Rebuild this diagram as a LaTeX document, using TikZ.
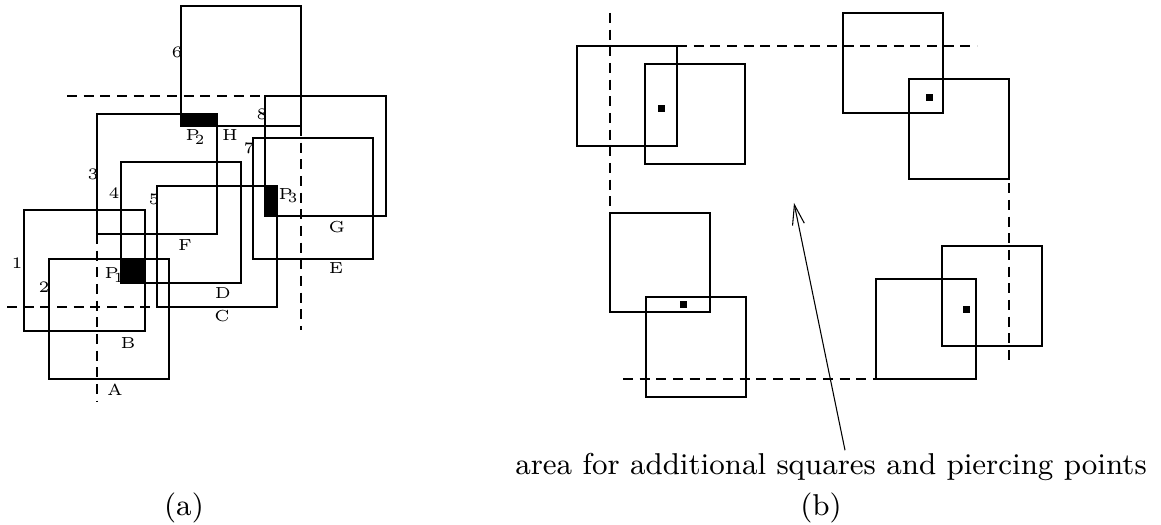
\documentclass[tikz,border=0pt]{standalone}
\usetikzlibrary{arrows.meta}
\begin{document}
\begin{tikzpicture}[x=0.3pt,y=-0.3pt, line width=0.32pt,
  sqbox/.style={draw=black, line width=0.32pt},
  dashln/.style={draw=black, dash pattern=on 3pt off 2pt, line width=0.32pt},
  lbl/.style={inner sep=0pt, font=\fontsize{4.8}{5}\selectfont},
  pierce/.style={fill=black},
  captext/.style={inner sep=0pt, font=\fontsize{9.05}{11}\selectfont}]
\useasboundingbox (0,0) rectangle (1161,525);
\newcommand{\Pl}[1]{P\kern-0.32em\raisebox{-0.45ex}{\fontsize{4.2}{4}\selectfont #1}}
% ---------------- (a) ----------------
\draw[sqbox] (181,6) rectangle (301,126);   % 6 / H
\draw[sqbox] (265,96) rectangle (386,216);  % 8 / G
\draw[sqbox] (97,114) rectangle (217,234);  % 3 / F
\draw[sqbox] (253,138) rectangle (373,259); % 7 / E
\draw[sqbox] (121,162) rectangle (241,283); % 4 / D
\draw[sqbox] (157,186) rectangle (277,307); % 5 / C
\draw[sqbox] (24,210) rectangle (145,331);  % 1 / B
\draw[sqbox] (49,259) rectangle (169,379);  % 2 / A
\fill[pierce] (181,114) rectangle (218,126);
\fill[pierce] (265,186) rectangle (277,217);
\fill[pierce] (121,259) rectangle (146,283);
\draw[dashln] (67,96) -- (272,96);
\draw[dashln] (7,307) -- (175,307);
\draw[dashln] (97,234) -- (97,402);
\draw[dashln] (301,126) -- (301,330);
\node[lbl] (n6) at (177,52) {6};
\node[lbl] (n8) at (262,114) {8};
\node[lbl] (n7) at (249,148) {7};
\node[lbl] (n3) at (93,174) {3};
\node[lbl] (n4) at (114,193) {4};
\node[lbl] (n5) at (154,199) {5};
\node[lbl] (n1) at (17,263) {1};
\node[lbl] (n2) at (44,287) {2};
\node[lbl] (p2) at (195,137) {\Pl{2}};
\node[lbl] (p3) at (288,196) {\Pl{3}};
\node[lbl] (p1) at (114,275) {\Pl{1}};
\node[lbl] (lH) at (230,135) {H};
\node[lbl] (lG) at (337,227) {G};
\node[lbl] (lE) at (336,268) {E};
\node[lbl] (lF) at (185,245) {F};
\node[lbl] (lD) at (223,293) {D};
\node[lbl] (lC) at (222,316) {C};
\node[lbl] (lB) at (128,343) {B};
\node[lbl] (lA) at (115,390) {A};
\node[captext, anchor=base] (capa) at (184,516) {(a)};
% ---------------- (b) ----------------
\draw[sqbox] (577,46) rectangle (677,146);
\draw[sqbox] (645,64) rectangle (745,164);
\draw[sqbox] (843,13) rectangle (943,113);
\draw[sqbox] (909,79) rectangle (1009,179);
\draw[sqbox] (610,213) rectangle (710,312);
\draw[sqbox] (646,297) rectangle (746,397);
\draw[sqbox] (876,279) rectangle (976,379);
\draw[sqbox] (942,246) rectangle (1042,346);
\fill[pierce] (657.5,105.5) rectangle (664.5,112.5);
\fill[pierce] (925.5,94.5) rectangle (932.5,101.5);
\fill[pierce] (679.5,301.5) rectangle (686.5,308.5);
\fill[pierce] (962.5,306.5) rectangle (969.5,313.5);
\draw[dashln] (610,13) -- (610,213);
\draw[dashln] (677,46) -- (977,46);
\draw[dashln] (1009,150) -- (1009,365);
\draw[dashln] (623,379) -- (899,379);
\node[captext, anchor=base] (note) at (831,475) {area for additional squares and piercing points};
\coordinate (target) at (794,203);
\draw[-{Straight Barb[length=6pt,width=3.6pt]}] ([xshift=4.2pt,yshift=0.9pt]note.north) -- (target);
\node[captext, anchor=base] (capb) at (821,516) {(b)};
\end{tikzpicture}
\end{document}
